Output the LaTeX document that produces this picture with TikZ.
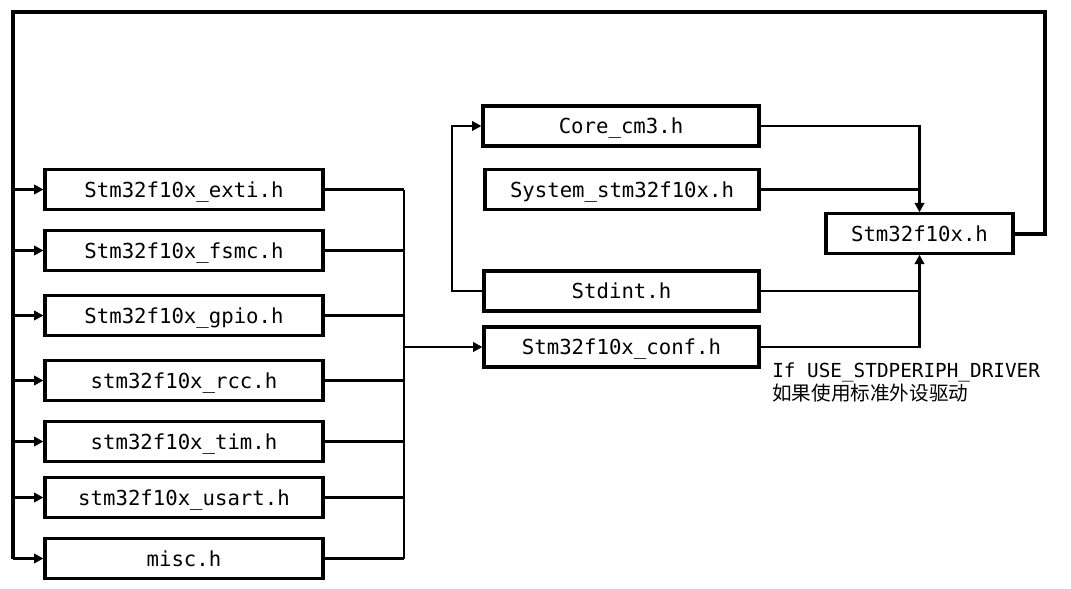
\documentclass[tikz,border=0pt]{standalone}
\usepackage{fontspec}
\setmonofont{DejaVu Sans Mono}
\newfontfamily\cjk{Noto Sans CJK SC}
\usetikzlibrary{arrows.meta}
\begin{document}
\begin{tikzpicture}[x=0.75pt,y=-0.75pt,
  fbox/.style={draw,line width=2.3pt,inner sep=0pt,text depth=0pt,font=\ttfamily\fontsize{15.5}{18}\selectfont,minimum height=29.5pt},
  conn/.style={line width=2.2pt},
  arr/.style={line width=2.2pt,-{Triangle[length=7pt,width=7pt]}},
  lbl/.style={font=\ttfamily\fontsize{14.5}{17}\selectfont,anchor=base west,inner sep=0pt}]
\useasboundingbox (0,0) rectangle (1071,589);
% left column
\node[fbox,minimum width=208.5pt] (exti) at (184,189.5) {Stm32f10x\_exti.h};
\node[fbox,minimum width=208.5pt] (fsmc) at (184,250.5) {Stm32f10x\_fsmc.h};
\node[fbox,minimum width=208.5pt] (gpio) at (184,315.5) {Stm32f10x\_gpio.h};
\node[fbox,minimum width=208.5pt] (rcc) at (184,380.5) {stm32f10x\_rcc.h};
\node[fbox,minimum width=208.5pt] (tim) at (184,441.5) {stm32f10x\_tim.h};
\node[fbox,minimum width=208.5pt] (usart) at (184,497.5) {stm32f10x\_usart.h};
\node[fbox,minimum width=208.5pt] (misc) at (184,558.5) {misc.h};
% middle column
\node[fbox,minimum width=207pt,minimum height=30pt] (core) at (621,126) {Core\_cm3.h};
\node[fbox,minimum width=205.5pt] (system) at (622,189.5) {System\_stm32f10x.h};
\node[fbox,minimum width=206.25pt,minimum height=30pt] (stdint) at (621.5,291) {Stdint.h};
\node[fbox,minimum width=206.25pt,minimum height=30pt] (conf) at (621.5,347) {Stm32f10x\_conf.h};
% right
\node[fbox,minimum width=140.25pt] (stm) at (919.5,233.5) {Stm32f10x.h};
% label
\node[lbl] (l1) at (772,377) {If USE\_STDPERIPH\_DRIVER};
\node[lbl,font=\cjk\fontsize{14.7}{17}\selectfont] (l2) at (772,400) {如果使用标准外设驱动};
% coordinates
\coordinate (tr) at (1045,11.5);
\coordinate (tl) at (13,11.5);
\coordinate (rb) at (404,0);
\coordinate (sl) at (452,0);
% feedback loop
\draw[line width=3pt] (stm.east) -| (tr) -- (tl) -- (tl |- misc.west);
\foreach \n in {exti,fsmc,gpio,rcc,tim,usart,misc}
  \draw[arr] (tl |- \n.west) -- (\n.west);
% right bus
\foreach \n in {exti,fsmc,gpio,rcc,tim,usart,misc}
  \draw[conn] (\n.east) -- (rb |- \n.east);
\draw[conn] (rb |- exti.east) -- (rb |- misc.east);
\draw[arr] (rb |- conf.west) -- (conf.west);
% stdint to core
\draw[arr] (stdint.west) -- (sl |- stdint.west) |- (core.west);
% into stm32f10x.h
\draw[arr] (core.east) -| (stm.north);
\draw[conn] (system.east) -- (stm.north |- system.east);
\draw[conn] (stdint.east) -- (stm.south |- stdint.east);
\draw[arr] (conf.east) -| (stm.south);
\end{tikzpicture}
\end{document}
